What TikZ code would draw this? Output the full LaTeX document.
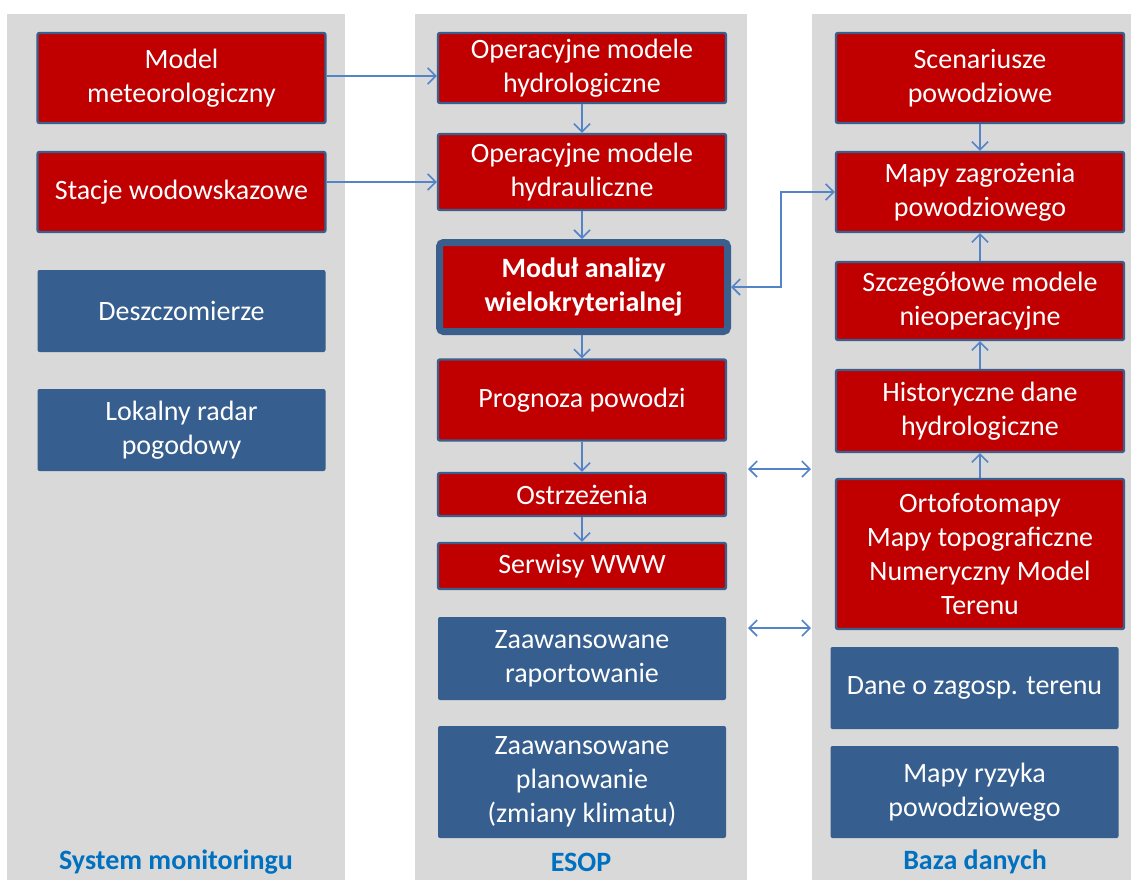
\documentclass[tikz,border=0pt]{standalone}
\usepackage{fontspec}
\setmainfont{Carlito}
\usetikzlibrary{arrows.meta}

\definecolor{boxred}{RGB}{192,0,0}
\definecolor{boxedge}{RGB}{58,95,140}
\definecolor{boxblue}{RGB}{54,94,142}
\definecolor{arrowblue}{RGB}{84,132,200}
\definecolor{panelgray}{RGB}{217,217,217}
\definecolor{labelblue}{RGB}{0,112,192}

\begin{document}
\begin{tikzpicture}[
    x=0.5pt, y=-0.5pt,
    panel/.style={fill=panelgray},
    redbox/.style={rectangle, draw=boxedge, line width=1.2pt, rounded corners=1pt, fill=boxred, text=white, align=center, minimum width=144pt, inner sep=0pt, font=\fontsize{14}{17}\selectfont},
    keybox/.style={redbox, line width=3.5pt, rounded corners=2pt, minimum width=144pt},
    bluebox/.style={redbox, draw=none, fill=boxblue},
    panellabel/.style={text=labelblue, font=\fontsize{14}{17}\selectfont\bfseries},
    arrow/.style={-{Straight Barb[length=4pt, width=8pt]}, draw=arrowblue, line width=0.8pt},
    biarrow/.style={arrow, {Straight Barb[length=4pt, width=8pt]}-{Straight Barb[length=4pt, width=8pt]}}
]
\useasboundingbox (0,0) rectangle (1131,880);

% Panels
\fill[panel] (7,14) rectangle (345,880);
\fill[panel] (415,14) rectangle (747,880);
\fill[panel] (812,14) rectangle (1131,880);

% Nodes: monitoring
\node[redbox, minimum height=45pt] (meteo) at (181.5,78) {Model\\meteorologiczny};
\node[redbox, minimum height=40pt] (stacje) at (181.5,192) {Stacje wodowskazowe};
\node[bluebox, minimum height=41pt] (deszcz) at (181.5,311) {Deszczomierze};
\node[bluebox, minimum height=41pt] (radar) at (181.5,430) {Lokalny radar\\pogodowy};

% Nodes: ESOP
\node[redbox, minimum height=35pt] (hydrolog) at (582,68) {Operacyjne modele\\hydrologiczne};
\node[redbox, minimum height=38pt] (hydraul) at (582,172) {Operacyjne modele\\hydrauliczne};
\node[keybox, minimum height=44.5pt] (modul) at (583.5,287) {\textbf{Moduł analizy}\\\textbf{wielokryterialnej}};
\node[redbox, minimum height=40.5pt] (prognoza) at (582,400) {Prognoza powodzi};
\node[redbox, minimum height=21.5pt] (ostrz) at (582,494.5) {Ostrzeżenia};
\node[redbox, minimum height=23pt] (serwisy) at (582,566) {Serwisy WWW};
\node[bluebox, minimum height=41.5pt] (raport) at (582,658.5) {Zaawansowane\\raportowanie};
\node[bluebox, minimum height=56pt] (planow) at (582,782) {Zaawansowane\\planowanie\\(zmiany klimatu)};

% Nodes: baza danych
\node[redbox, minimum height=45pt] (scen) at (980,78) {Scenariusze\\powodziowe};
\node[redbox, minimum height=40pt] (zagr) at (980,192) {Mapy zagrożenia\\powodziowego};
\node[redbox, minimum height=39pt] (szczeg) at (980,301) {Szczegółowe modele\\nieoperacyjne};
\node[redbox, minimum height=41pt] (hist) at (980,411) {Historyczne dane\\hydrologiczne};
\node[redbox, minimum height=75pt] (orto) at (980,554) {Ortofotomapy\\Mapy topograficzne\\Numeryczny Model\\Terenu};
\node[bluebox, minimum height=41pt] (dane) at (974.5,688) {Dane o zagosp. terenu};
\node[bluebox, minimum height=46pt] (ryzyko) at (974.5,792) {Mapy ryzyka\\powodziowego};

% Panel labels
\node[panellabel] (lmon) at (176,862) {System monitoringu};
\node[panellabel] (lesop) at (581,862) {ESOP};
\node[panellabel] (lbaza) at (975,862) {Baza danych};

% Free ends between panels
\coordinate (gapAl) at (748,469);
\coordinate (gapAr) at (811,469);
\coordinate (gapBl) at (748,628);
\coordinate (gapBr) at (811,628);

% Connections
\draw[arrow] ([yshift=1pt]meteo.east) -- ([yshift=1pt]meteo.east -| hydrolog.west);
\draw[arrow] ([yshift=5pt]stacje.east) -- ([yshift=5pt]stacje.east -| hydraul.west);
\draw[arrow] (hydrolog) -- (hydraul);
\draw[arrow] (hydraul.south) -- (hydraul.south |- modul.north);
\draw[arrow] (hydraul.south |- modul.south) -- (prognoza.north);
\draw[arrow] (prognoza) -- (ostrz);
\draw[arrow] (ostrz) -- (serwisy);
\draw[arrow] (scen) -- (zagr);
\draw[arrow] (szczeg) -- (zagr);
\draw[arrow] (hist) -- (szczeg);
\draw[arrow] (orto) -- (hist);
\draw[biarrow] (zagr.west) -- ++(-54,0) |- (modul.east);
\draw[biarrow] (gapAl) -- (gapAr);
\draw[biarrow] (gapBl) -- (gapBr);

\end{tikzpicture}
\end{document}
